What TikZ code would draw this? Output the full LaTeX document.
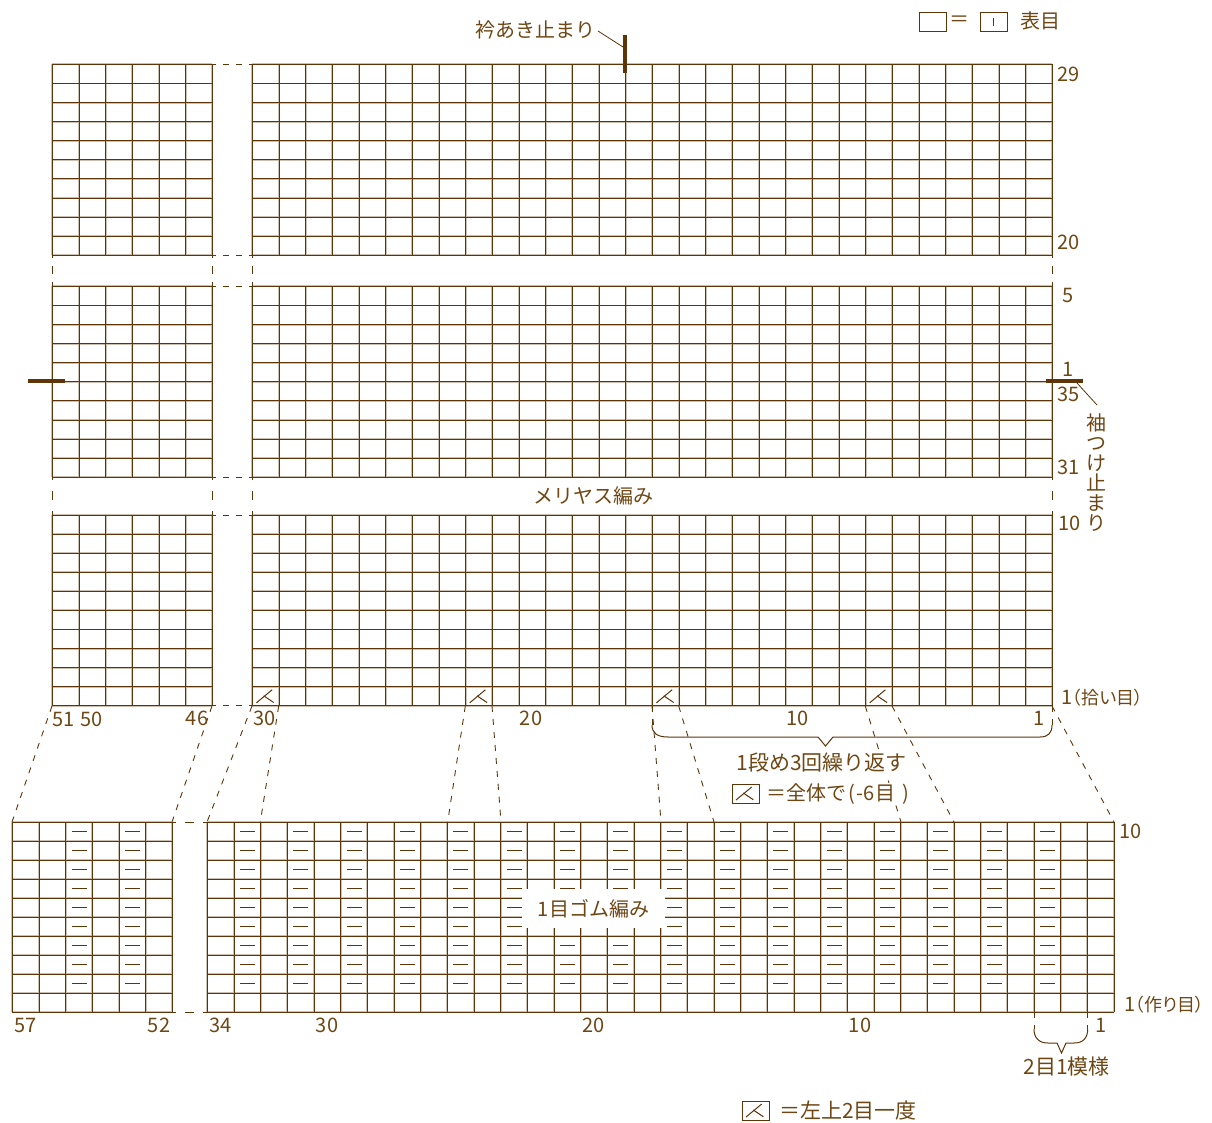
\documentclass[tikz,border=0pt]{standalone}
\usepackage{fontspec}
\setmainfont{Noto Sans CJK JP}
\newfontfamily\pf[RawFeature=+palt]{Noto Sans CJK JP}
\definecolor{lineb}{HTML}{5E3508}
\definecolor{haloc}{HTML}{CDBFAE}
\definecolor{textb}{HTML}{6E4714}
\newcommand{\gridblock}[6]{% x0, ncols, y0, nrows, colw, rowh
  \foreach \ci in {0,...,#2}{\draw[gridhalo] ({#1+\ci*#5},#3) -- ({#1+\ci*#5},{#3+#4*#6});}
  \foreach \ri in {0,...,#4}{\draw[gridhalo] (#1,{#3+\ri*#6}) -- ({#1+#2*#5},{#3+\ri*#6});}
  \foreach \ci in {0,...,#2}{\draw[gridline] ({#1+\ci*#5},#3) -- ({#1+\ci*#5},{#3+#4*#6});}
  \foreach \ri in {0,...,#4}{\draw[gridline] (#1,{#3+\ri*#6}) -- ({#1+#2*#5},{#3+\ri*#6});}
}
\newcommand{\kfold}[2]{% cell left x, cell bottom y
  \draw[symline] ({#1+4},{#2-3}) -- ({#1+19.7},{#2-16});
  \draw[symline] ({#1+11.3},{#2-10}) -- ({#1+21.3},{#2-3.3});
}
\begin{document}
\begin{tikzpicture}[x=1pt,y=-1pt,
  gridline/.style={draw=lineb,line width=0.9pt},
  gridhalo/.style={draw=haloc,line width=1.9pt},
  symline/.style={draw=lineb,line width=1pt},
  dashline/.style={draw=lineb,line width=0.9pt,dash pattern=on 6pt off 7pt},
  hgap/.style={draw=lineb,line width=1pt,dash pattern=on 4pt off 7pt on 6pt off 7pt on 6pt off 7pt on 4pt},
  hgapb/.style={draw=lineb,line width=1pt,dash pattern=on 4pt off 9pt on 9pt off 9pt on 4pt},
  vgapa/.style={draw=lineb,line width=1pt,dash pattern=on 2.5pt off 8pt on 8pt off 8pt on 5pt},
  vgapb/.style={draw=lineb,line width=1pt,dash pattern=on 2.5pt off 11.5pt on 9pt off 11pt on 4pt},
  leader/.style={draw=lineb,line width=0.8pt},
  bar/.style={draw=lineb,line width=4.6pt},
  bracket/.style={draw=lineb,line width=1pt},
  lab/.style={text=textb,font=\fontsize{20}{20}\selectfont,inner sep=0pt},
  labm/.style={lab,font=\fontsize{21}{21}\selectfont},
  llab/.style={lab,anchor=west},
  keybox/.style={draw=lineb,line width=1pt,fill=white,minimum width=27pt,minimum height=19pt,inner sep=0pt},
  mask/.style={fill=white,inner sep=0pt,minimum width=143pt,minimum height=39pt,text=textb,font=\fontsize{20}{20}\selectfont}]
\useasboundingbox (0,0) rectangle (1212,1122);
\def\cw{26.667}\def\rh{19.08}
% upper chart
\gridblock{52.4}{6}{64.4}{10}{\cw}{\rh}
\gridblock{252.4}{30}{64.4}{10}{\cw}{\rh}
\gridblock{52.4}{6}{286.4}{10}{\cw}{\rh}
\gridblock{252.4}{30}{286.4}{10}{\cw}{\rh}
\gridblock{52.4}{6}{515}{10}{\cw}{\rh}
\gridblock{252.4}{30}{515}{10}{\cw}{\rh}
% lower chart
\gridblock{12.4}{6}{822.4}{10}{\cw}{19}
\gridblock{207.4}{34}{822.4}{10}{\cw}{19}
\foreach \r in {0,...,8}{
  \foreach \c in {2,4}{\draw[symline] ({12.4+\c*\cw+6},{831.5+\r*19}) -- ({12.4+\c*\cw+21},{831.5+\r*19});}
  \foreach \c in {1,3,...,31}{\draw[symline] ({207.4+\c*\cw+6},{831.5+\r*19}) -- ({207.4+\c*\cw+21},{831.5+\r*19});}
}
% gap dashes
\foreach \y in {64.4,255.2,286.4,477.2,515,705.8}{\draw[hgap] (212.4,\y) -- (252.4,\y);}
\foreach \y in {822.4,1012.4}{\draw[hgapb] (172.4,\y) -- (207.4,\y);}
\foreach \x in {52.4,212.4,252.4,1052.4}{
  \draw[vgapa] (\x,255.2) -- (\x,286.4);
  \draw[vgapb] (\x,477.2) -- (\x,515);
}
% decrease symbols
\foreach \x in {252.4,465.7,652.4,865.7}{\kfold{\x}{705.8}}
% connector ends
\coordinate (ta) at (52,706); \coordinate (ba) at (12,822);
\coordinate (tb) at (212,706); \coordinate (bb) at (172,822);
\coordinate (tc) at (252,706); \coordinate (bc) at (207,822);
\coordinate (td) at (278.7,706); \coordinate (bd) at (260.3,822);
\coordinate (te) at (465.3,706); \coordinate (be) at (447.7,822);
\coordinate (tf) at (492,706); \coordinate (bf) at (501,822);
\coordinate (tg) at (652,706); \coordinate (bg) at (661,822);
\coordinate (th) at (678.7,706); \coordinate (bh) at (714,822);
\coordinate (ti) at (865.3,706); \coordinate (bi) at (901,822);
\coordinate (tj) at (892,706); \coordinate (bj) at (954,822);
\coordinate (tk) at (1052,706); \coordinate (bk) at (1114,822);
\foreach \n in {a,b,...,k}{\draw[dashline] (t\n) -- (b\n);}
% bracket 1
\coordinate (bl1) at (652,725); \coordinate (br1) at (1052,725);
\draw[dashline] (tg) -- (bl1);
\draw[dashline] (tk) -- (br1);
\draw[bracket] (bl1) .. controls (652,733) and (657,737) .. (668,737) -- (818,737) -- (825.5,746) -- (833,737) -- (1040,737) .. controls (1048,737) and (1052,733) .. (br1);
% bracket 2
\coordinate (gl) at (1034,1012); \coordinate (gr) at (1087.7,1012);
\coordinate (gl2) at (1034,1029); \coordinate (gr2) at (1087.7,1029);
\draw[dashline] (gl) -- (gl2);
\draw[dashline] (gr) -- (gr2);
\draw[bracket] (gl2) .. controls (1034,1038) and (1039,1043) .. (1048,1043) -- (1057,1043) -- (1061.5,1053) -- (1066,1043) -- (1074,1043) .. controls (1083,1043) and (1087.7,1038) .. (gr2);
% markers
\coordinate (m1a) at (625,35); \coordinate (m1b) at (625,72.5);
\coordinate (m2a) at (28,381); \coordinate (m2b) at (65,381);
\coordinate (m3a) at (1046,381); \coordinate (m3b) at (1083,381);
\draw[bar] (m1a) -- (m1b);
\draw[bar] (m2a) -- (m2b);
\draw[bar] (m3a) -- (m3b);
\coordinate (l1a) at (598,31); \coordinate (l1b) at (623,47);
\coordinate (l2a) at (1077,383); \coordinate (l2b) at (1097,405);
\draw[leader] (l1a) -- (l1b);
\draw[leader] (l2a) -- (l2b);
% chart labels
\node[lab] (n1) at (535.5,30) {衿あき止まり};
\node[lab] (n2) at (1068.5,74) {29};
\node[lab] (n3) at (1068.5,242) {20};
\node[lab] (n4) at (1068,295) {5};
\node[lab] (n5) at (1068,369) {1};
\node[lab] (n6) at (1068.5,394) {35};
\node[lab] (n7) at (1068.5,467) {31};
\node[lab] (n8) at (1069.5,523) {10};
\node[llab] (n9) at (1061,698) {1{\pf\fontsize{18}{18}\selectfont （拾い目）}};
\node[lab,align=center,anchor=north] (n10) at (1096,413) {袖\\つ\\け\\止\\ま\\り};
\node[lab] (n11) at (593,496) {メリヤス編み};
\node[lab] (n12) at (63.5,719) {51};
\node[lab] (n13) at (91.5,719) {50};
\node[lab] (n14) at (197,718) {46};
\node[lab] (n15) at (264.5,718) {30};
\node[lab] (n16) at (531,718) {20};
\node[lab] (n17) at (797.5,718) {10};
\node[lab] (n18) at (1039,718) {1};
\node[labm,fill=white,inner sep=1pt] (n19) at (821.5,763) {1段め3回繰り返す};
\node[keybox] (k1) at (745.5,794) {};
\kfold{732}{803}
\node[llab,fill=white,inner sep=1pt] (n20) at (765,794) {＝全体で\kern2pt(\kern2pt-6目\kern7pt)};
\node[lab] (n21) at (1130.5,831) {10};
\node[llab] (n22) at (1124,1005) {1{\pf\fontsize{18}{18}\selectfont （作り目）}};
\node[mask] (n23) at (593.5,908.5) {1目ゴム編み};
\node[lab] (n24) at (25.5,1025) {57};
\node[lab] (n25) at (159,1025) {52};
\node[lab] (n26) at (220.5,1025) {34};
\node[lab] (n27) at (327,1025) {30};
\node[lab] (n28) at (593.5,1025) {20};
\node[lab] (n29) at (860,1025) {10};
\node[lab] (n30) at (1101,1025) {1};
\node[labm] (n31) at (1066.5,1067) {2目1模様};
% legends
\node[keybox] (k2) at (755.5,1111) {};
\kfold{742}{1120}
\node[llab,font=\fontsize{21}{21}\selectfont] (n32) at (779,1111) {＝左上2目一度};
\node[keybox] (k3) at (933,21.5) {};
\node[lab] (n33) at (959,21) {＝};
\node[keybox] (k4) at (993.5,21.5) {};
\coordinate (tk1) at (993.5,18); \coordinate (tk2) at (993.5,26);
\draw[symline] (tk1) -- (tk2);
\node[lab] (n34) at (1040.5,21) {表目};
\end{tikzpicture}
\end{document}
